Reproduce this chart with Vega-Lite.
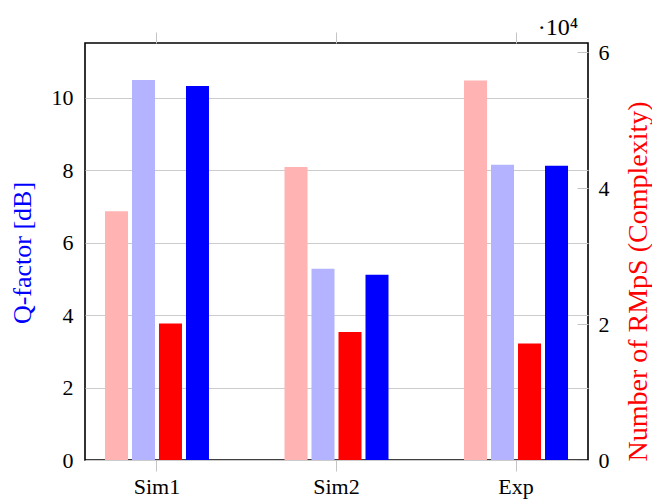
{
  "$schema": "https://vega.github.io/schema/vega-lite/v6.json",
  "width": 503,
  "height": 417,
  "autosize": {"type": "none"},
  "padding": {"left": 85, "top": 43, "right": 64, "bottom": 41},
  "config": {
    "font": "Liberation Serif",
    "view": {"stroke": "black", "strokeWidth": 1.6},
    "axis": {"labelFont": "Liberation Serif", "titleFont": "Liberation Serif", "labelColor": "black", "titleFontWeight": "normal"}
  },
  "title": {
    "text": "·10⁴",
    "anchor": "end",
    "frame": "group",
    "orient": "top",
    "offset": -27,
    "baseline": "alphabetic",
    "dx": -10,
    "fontSize": 24,
    "font": "Liberation Serif",
    "fontWeight": "normal",
    "color": "black"
  },
  "data": {
    "values": [
      {"cat": "Sim1", "series": "A", "metric": "c", "value": 36600},
      {"cat": "Sim1", "series": "B", "metric": "q", "value": 10.49},
      {"cat": "Sim1", "series": "C", "metric": "c", "value": 20100},
      {"cat": "Sim1", "series": "D", "metric": "q", "value": 10.32},
      {"cat": "Sim2", "series": "A", "metric": "c", "value": 43130},
      {"cat": "Sim2", "series": "B", "metric": "q", "value": 5.28},
      {"cat": "Sim2", "series": "C", "metric": "c", "value": 18820},
      {"cat": "Sim2", "series": "D", "metric": "q", "value": 5.11},
      {"cat": "Exp", "series": "A", "metric": "c", "value": 55840},
      {"cat": "Exp", "series": "B", "metric": "q", "value": 8.15},
      {"cat": "Exp", "series": "C", "metric": "c", "value": 17160},
      {"cat": "Exp", "series": "D", "metric": "q", "value": 8.12}
    ]
  },
  "layer": [
    {
      "transform": [{"filter": "datum.metric == 'q'"}],
      "mark": {"type": "bar"},
      "encoding": {
        "x": {
          "field": "cat", "type": "nominal", "sort": ["Sim1", "Sim2", "Exp"],
          "scale": {"paddingInner": 0.198, "paddingOuter": 0},
          "axis": {"orient": "bottom", "title": null, "labelAngle": 0, "labelFontSize": 22, "tickSize": 11, "tickColor": "#c4c4c4", "labelPadding": 5, "domain": false, "grid": false}
        },
        "xOffset": {
          "field": "series", "type": "nominal",
          "scale": {"domain": ["A", "B", "C", "D"], "paddingInner": 0.148, "paddingOuter": 0.74}
        },
        "y": {
          "field": "value", "type": "quantitative",
          "scale": {"domain": [0, 11.51], "nice": false, "zero": true},
          "axis": {
            "orient": "left", "title": "Q-factor [dB]", "titleColor": "#0000ff", "titleFontSize": 26,
            "titleAngle": -90, "titleX": -63, "titleY": 209.5, "titleAlign": "center", "titleBaseline": "middle",
            "values": [0, 2, 4, 6, 8, 10], "labelFontSize": 22, "labelPadding": 12, "ticks": false, "domain": false,
            "grid": true, "gridColor": "#cccccc", "gridWidth": 1
          }
        },
        "color": {
          "field": "series", "type": "nominal",
          "scale": {"domain": ["A", "B", "C", "D"], "range": ["#ffb3b3", "#b3b3ff", "#ff0000", "#0000ff"]},
          "legend": null
        }
      }
    },
    {
      "transform": [{"filter": "datum.metric == 'c'"}],
      "mark": {"type": "bar"},
      "encoding": {
        "x": {
          "field": "cat", "type": "nominal", "sort": ["Sim1", "Sim2", "Exp"],
          "scale": {"paddingInner": 0.198, "paddingOuter": 0},
          "axis": {"orient": "top", "title": null, "labels": false, "tickSize": 11, "tickColor": "#c4c4c4", "domain": false, "grid": false}
        },
        "xOffset": {
          "field": "series", "type": "nominal",
          "scale": {"domain": ["A", "B", "C", "D"], "paddingInner": 0.148, "paddingOuter": 0.74}
        },
        "y": {
          "field": "value", "type": "quantitative",
          "scale": {"domain": [0, 61370], "nice": false, "zero": true},
          "axis": {
            "orient": "right", "title": "Number of RMpS (Complexity)", "titleColor": "#ff0000", "titleFontSize": 28,
            "titleAngle": -90, "titleX": 50, "titleY": 238, "titleAlign": "center", "titleBaseline": "middle",
            "values": [0, 20000, 40000, 60000], "labelExpr": "format(datum.value / 10000, 'd')",
            "labelFontSize": 22, "tickSize": -11, "tickColor": "#c4c4c4", "labelPadding": 21, "domain": false, "grid": false
          }
        },
        "color": {
          "field": "series", "type": "nominal",
          "scale": {"domain": ["A", "B", "C", "D"], "range": ["#ffb3b3", "#b3b3ff", "#ff0000", "#0000ff"]},
          "legend": null
        }
      }
    }
  ],
  "resolve": {"scale": {"y": "independent"}, "axis": {"x": "independent", "y": "independent"}}
}
